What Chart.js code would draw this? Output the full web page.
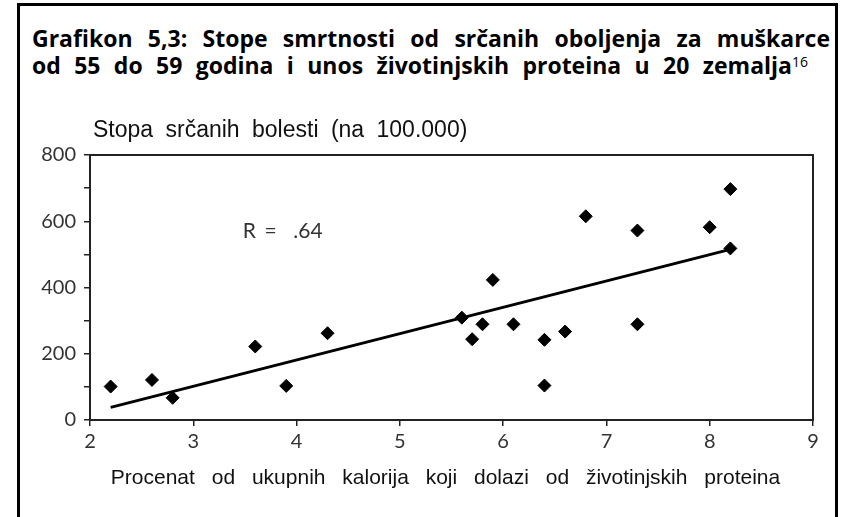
<!DOCTYPE html>
<html>
<head>
<meta charset="utf-8">
<script src="https://cdn.jsdelivr.net/npm/chart.js@4.4.1/dist/chart.umd.min.js"></script>
<style>
  html, body { margin: 0; padding: 0; background: #fff; width: 843px; height: 517px; overflow: hidden; }
  #frame { position: absolute; left: 17px; top: 3px; width: 821px; height: 600px; border: 3px solid #000; box-sizing: border-box; }
  .title { position: absolute; left: 32px; font-family: "Open Sans", "Liberation Sans", sans-serif;
           font-weight: bold; font-size: 23px; line-height: 26px; color: #000; text-align: justify; text-align-last: justify; }
  .title sup { font-size: 14px; font-weight: normal; vertical-align: 7px; line-height: 0; }
  #wrap { position: absolute; left: 0; top: 90px; width: 843px; height: 427px; }
</style>
</head>
<body>
<div class="title" style="top:25px; width:798px;">Grafikon 5,3: Stope smrtnosti od srčanih oboljenja za muškarce</div>
<div class="title" style="top:52px; width:776px;">od 55 do 59 godina i unos životinjskih proteina u 20 zemalja<sup>16</sup></div>
<div id="wrap"><canvas id="chart"></canvas></div>
<div id="frame"></div>
<script>
// procenat kalorija iz životinjskih proteina / stopa srčanih bolesti na 100.000
const proteinPct = [2.2, 2.6, 2.8, 3.6, 3.9, 4.3, 5.6, 5.7, 5.8, 5.9, 6.1, 6.4, 6.4, 6.6, 6.8, 7.3, 7.3, 8.0, 8.2, 8.2];
const heartRate = [101, 121, 67, 222, 103, 262, 309, 244, 289, 423, 289, 242, 104, 267, 615, 572, 289, 582, 697, 518];
// linija trenda (krajnje tačke očitane sa slike)
const trendX = [2.2, 8.2];
const trendY = [38, 515];
const yTitle = "Stopa srčanih bolesti (na 100.000)";
const xTitle = "Procenat od ukupnih kalorija koji dolazi od životinjskih proteina";
const rLabel = "R =  .64";

const tickFont = { family: "Lato, 'Open Sans', sans-serif", size: 20 };
const axisFamily = "'Liberation Sans', Arial, sans-serif";

// okvir oko površine grafika + tekstovi
const extras = {
    id: "extras",
    beforeDatasetsDraw(chart) {
        let a = chart.chartArea, ctx = chart.ctx;
        ctx.save();
        ctx.strokeStyle = "#222";
        ctx.lineWidth = 2;
        ctx.strokeRect(a.left, a.top, a.right - a.left, a.bottom - a.top);
        ctx.restore();
    },
    afterDraw(chart) {
        let a = chart.chartArea, ctx = chart.ctx;
        ctx.save();
        ctx.fillStyle = "#111";
        ctx.textBaseline = "alphabetic";
        ctx.textAlign = "left";
        ctx.font = "23px " + axisFamily;
        ctx.wordSpacing = "6px";
        ctx.fillText(yTitle, a.left + 3, a.top - 18);
        ctx.font = "21px " + axisFamily;
        ctx.wordSpacing = "11px";
        ctx.textAlign = "center";
        ctx.fillText(xTitle, (a.left + a.right) / 2 - 6, a.bottom + 64);
        ctx.fillStyle = "#333";
        ctx.font = "21px " + tickFont.family;
        ctx.wordSpacing = "3px";
        ctx.textAlign = "left";
        ctx.textBaseline = "middle";
        ctx.fillText(rLabel, chart.scales.x.getPixelForValue(3.48), chart.scales.y.getPixelForValue(570));
        ctx.restore();
    }
};

new Chart(document.getElementById("chart"), {
    type: "scatter",
    data: {
        datasets: [
            {
                data: proteinPct.map((x, i) => ({ x: x, y: heartRate[i] })),
                pointStyle: "rectRot",
                pointRadius: 6.5,
                backgroundColor: "#000",
                borderColor: "#000",
                borderWidth: 1
            },
            {
                type: "line",
                data: trendX.map((x, i) => ({ x: x, y: trendY[i] })),
                borderColor: "#000",
                borderWidth: 3,
                pointRadius: 0,
                fill: false
            }
        ]
    },
    options: {
        responsive: true,
        maintainAspectRatio: false,
        animation: false,
        layout: { padding: { left: 0, top: 65, right: 30, bottom: 27.6 } },
        plugins: { legend: { display: false }, tooltip: { enabled: false } },
        scales: {
            x: {
                type: "linear", min: 2, max: 9,
                afterFit: s => { s.height = 69.4; },
                ticks: { stepSize: 1, color: "#333", font: tickFont, padding: 4 },
                grid: { drawOnChartArea: false, tickLength: 6, color: "#222", lineWidth: 1.5 },
                border: { color: "#222", width: 2 }
            },
            y: {
                min: 0, max: 800,
                afterFit: s => { s.width = 90; },
                ticks: { stepSize: 100, color: "#333", font: tickFont, padding: 8,
                         callback: v => (v % 200 === 0 ? v : "") },
                grid: { drawOnChartArea: false, tickLength: 6, color: "#222", lineWidth: 1.5 },
                border: { color: "#222", width: 2 }
            }
        }
    },
    plugins: [extras]
});
</script>
</body>
</html>
